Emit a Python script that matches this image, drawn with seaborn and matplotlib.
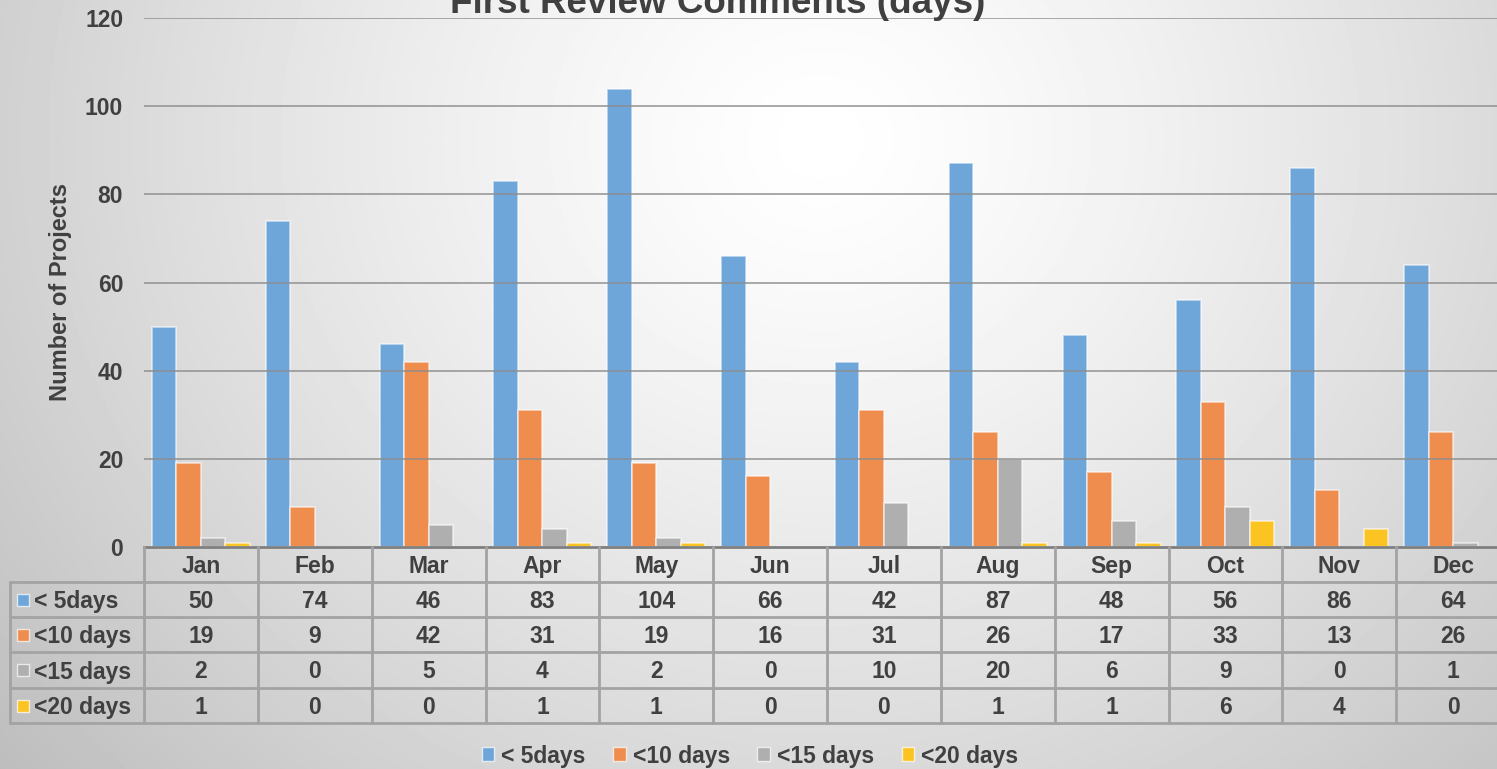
import numpy as np
import pandas as pd
import seaborn as sns
import matplotlib.pyplot as plt
import matplotlib.transforms as mtransforms
from matplotlib.patches import Patch

months = ["Jan", "Feb", "Mar", "Apr", "May", "Jun", "Jul", "Aug", "Sep", "Oct", "Nov", "Dec"]
series = ["< 5days", "<10 days", "<15 days", "<20 days"]
lt5 = [50, 74, 46, 83, 104, 66, 42, 87, 48, 56, 86, 64]
lt10 = [19, 9, 42, 31, 19, 16, 31, 26, 17, 33, 13, 26]
lt15 = [2, 0, 5, 4, 2, 0, 10, 20, 6, 9, 0, 1]
lt20 = [1, 0, 0, 1, 1, 0, 0, 1, 1, 6, 4, 0]
colors = ["#6FA6D9", "#EE8D4D", "#AFAFAF", "#FCC422"]

values = [lt5, lt10, lt15, lt20]
df = pd.DataFrame({
    "month": months * 4,
    "series": [s for s in series for _ in months],
    "count": lt5 + lt10 + lt15 + lt20,
})

sns.set_theme(style="white")
plt.rcParams["font.family"] = ["Liberation Sans", "DejaVu Sans"]
plt.rcParams["font.weight"] = "bold"
txt = "#404040"

W, H = 1497, 769
fig = plt.figure(figsize=(W / 100, H / 100), dpi=100)

# radial background
bg = fig.add_axes([0, 0, 1, 1], zorder=-10)
yy, xx = np.mgrid[0:H, 0:W]
d = np.sqrt(((xx - 820) / 1.0) ** 2 + ((yy - 140) / 0.9) ** 2) / 950
shade = 1 - 0.22 * np.clip(d, 0, 1.2) ** 1.3
bg.imshow(shade, cmap="gray", vmin=0, vmax=1, aspect="auto", extent=[0, 1, 0, 1])
bg.axis("off")

left, right = 144, 1510
top, bottom = 18, 547
ax = fig.add_axes([left / W, 1 - bottom / H, (right - left) / W, (bottom - top) / H])
ax.set_facecolor("none")

sns.barplot(data=df, x="month", y="count", hue="series", palette=colors,
            width=0.86, gap=0, ax=ax, legend=False, saturation=1,
            edgecolor=(1, 1, 1, 0.6), linewidth=1.2)

ax.set_ylim(0, 120)
ax.set_xlim(-0.5, 11.5)
ax.set_yticks(range(0, 121, 20))
ax.yaxis.grid(True, color="#8c8c8c", alpha=0.8, linewidth=1.3)
ax.set_axisbelow(False)
ax.tick_params(axis="y", length=0, pad=15, labelsize=16.5, labelcolor=txt)
ax.tick_params(axis="x", length=0, labelbottom=False)
for lab in ax.get_yticklabels():
    lab.set_fontweight("bold")
for s in ["top", "right", "left"]:
    ax.spines[s].set_visible(False)
ax.spines["bottom"].set_color("#7f7f7f")
ax.spines["bottom"].set_linewidth(2)
ax.set_xlabel("")
ax.set_ylabel("")

# title and y label
fig.text(718 / W, 1 - 13 / H, "First Review Comments (days)", ha="center", va="baseline",
         fontsize=26.5, fontweight="bold", color=txt)
fig.text(60 / W, 1 - 292 / H, "Number of Projects", rotation=90, ha="center", va="center",
         fontsize=17, fontweight="bold", color=txt)

# data table under the axis
tr = mtransforms.blended_transform_factory(ax.transData, fig.transFigure)
fy = lambda p: 1 - p / H
fx = lambda p: p / W
rows = [547, 582, 617, 652, 688, 723]
grid_c = "#a3a3a3"
for i, m in enumerate(months):
    fig.text(i, fy((rows[0] + rows[1]) / 2 + 2), m, transform=tr, ha="center", va="center",
             fontsize=16.5, fontweight="bold", color=txt)
    for r, vals in enumerate(values):
        fig.text(i, fy((rows[r + 1] + rows[r + 2]) / 2 + 2), str(vals[i]), transform=tr,
                 ha="center", va="center", fontsize=16.5, fontweight="bold", color=txt)
for i in range(13):
    fig.add_artist(plt.Line2D([i - 0.5, i - 0.5], [fy(rows[0]), fy(rows[-1])],
                              transform=tr, color=grid_c, lw=2))
for r in rows[1:]:
    fig.add_artist(plt.Line2D([fx(10), 1], [fy(r), fy(r)], color=grid_c, lw=2))
fig.add_artist(plt.Line2D([fx(10), fx(10)], [fy(rows[1]), fy(rows[-1])], color=grid_c, lw=2))
for r, name in enumerate(series):
    yc = fy((rows[r + 1] + rows[r + 2]) / 2)
    fig.add_artist(plt.Rectangle((fx(17), yc - 6 / H), 12 / W, 12 / H, transform=fig.transFigure,
                                 facecolor=colors[r], edgecolor=(1, 1, 1, 0.7), lw=1))
    fig.text(fx(34), yc - 2 / H, name, ha="left", va="center", fontsize=16.5,
             fontweight="bold", color=txt)

# legend
handles = [Patch(facecolor=c, edgecolor=(1, 1, 1, 0.7), label=s) for c, s in zip(colors, series)]
leg = fig.legend(handles=handles, loc="center", bbox_to_anchor=(750 / W, 1 - 756 / H), ncol=4,
                 frameon=False, fontsize=16.5, handlelength=0.55, handleheight=0.55,
                 handletextpad=0.3, columnspacing=1.2)
for t in leg.get_texts():
    t.set_color(txt)
    t.set_fontweight("bold")

fig.savefig("out.png", dpi=100)
